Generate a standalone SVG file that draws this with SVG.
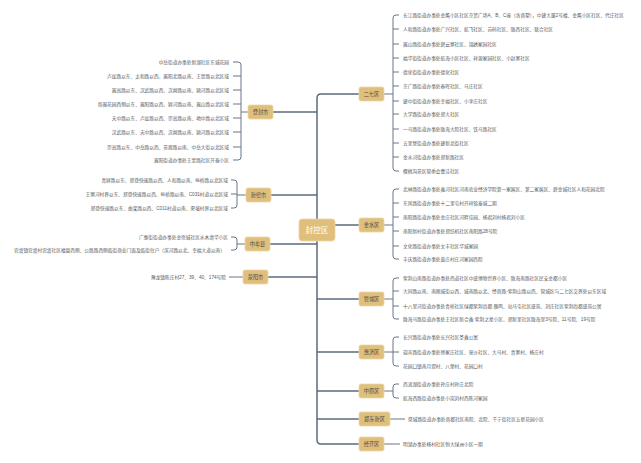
<svg xmlns="http://www.w3.org/2000/svg" width="641" height="463" viewBox="0 0 641 463">
<style>
.bg{fill:#ffffff}
.box{fill:#dfbf7b;stroke:#ecd7a6;stroke-width:0.8}
.lbl{font-family:"Liberation Sans","Noto Sans CJK SC",sans-serif;font-size:5.2px;fill:#4a4a4a;text-anchor:middle}
.rootlbl{font-size:7.6px;fill:#ffffff}
.leaf{font-family:"Liberation Sans","Noto Sans CJK SC",sans-serif;font-size:4.7px;fill:#555a60;text-anchor:start}
.l{text-anchor:end}
.main{fill:none;stroke:#5c6a7c;stroke-width:1.5}
.sub{fill:none;stroke:#6b7789;stroke-width:1}
</style>
<rect class="bg" x="0" y="0" width="641" height="463"/>
<g id="connectors">
<path class="main" d="M359 94 H321 Q317 94 317 98 V440 Q317 444 321 444 H359"/>
<path class="main" d="M317 225 H359 M317 299 H359 M317 352 H359 M317 391 H359 M317 419 H359"/>
<path class="main" d="M273 112 H317 M271 195 H317 M270 244 H317 M268 277 H317"/>
<path class="sub" d="M248 112 H241 M233 62 H238 Q241 62 241 65 V157 Q241 160 238 160 H233 M233 76 H241 M233 90 H241 M233 104 H241 M233 118 H241 M233 132 H241 M233 147 H241"/>
<path class="sub" d="M246 195 H237 M231 180 H234 Q237 180 237 183 V205 Q237 208 234 208 H231 M231 194 H237"/>
<path class="sub" d="M245 244 H237 M231 237 H234 Q237 237 237 240 V247 Q237 250 234 250 H231"/>
<path class="sub" d="M229 277 H243"/>
<path class="sub" d="M384 94 H393 M399 15 H396 Q393 15 393 18 V168 Q393 171 396 171 H399 M393 29 H399 M393 44 H399 M393 58 H399 M393 72 H399 M393 86 H399 M393 101 H399 M393 114 H399 M393 129 H399 M393 143 H399 M393 157 H399"/>
<path class="sub" d="M384 225 H393 M399 189 H396 Q393 189 393 192 V256 Q393 259 396 259 H399 M393 203 H399 M393 217 H399 M393 231 H399 M393 246 H399"/>
<path class="sub" d="M384 299 H393 M399 278 H396 Q393 278 393 281 V316 Q393 319 396 319 H399 M393 291 H399 M393 306 H399"/>
<path class="sub" d="M384 352 H393 M399 337 H396 Q393 337 393 340 V363 Q393 366 396 366 H399 M393 352 H399"/>
<path class="sub" d="M384 391 H393 M399 384 H396 Q393 384 393 387 V395 Q393 398 396 398 H399"/>
<path class="sub" d="M390 419 H405"/>
<path class="sub" d="M384 444 H400"/>
</g>
<g id="root"><rect class="box" x="299" y="219" width="36" height="22" rx="3"/><text class="lbl rootlbl" x="317" y="232.7">封控区</text></g>
<g id="dengfeng"><rect class="box" x="248" y="105" width="25" height="14" rx="2"/><text class="lbl" x="260.5" y="113.9">登封市</text>
<text class="leaf l" x="229" y="63.7">中岳街道办事处新湖社区东城花园</text>
<text class="leaf l" x="229" y="77.7">卢崖路以东、太和路以西、嵩阳北路以南、王蒙路以北区域</text>
<text class="leaf l" x="229" y="91.7">嵩高路以东、汉武路以西、汉阙路以南、颍河路以北区域</text>
<text class="leaf l" x="229" y="105.7">倚嵩花园西侧以东、嵩阳路以西、颍河路以南、嵩山路以北区域</text>
<text class="leaf l" x="229" y="119.7">天中路以东、卢崖路以西、崇高路以南、地中路以北区域</text>
<text class="leaf l" x="229" y="133.7">汉武路以东、天中路以西、汉阙路以南、颍河路以北区域</text>
<text class="leaf l" x="229" y="148.7">崇高路以东、中岳路以西、景观路以南、中岳大街以北区域</text>
<text class="leaf l" x="229" y="161.7">嵩阳街道办事处王蒙路社区开泰小区</text>
</g>
<g id="xinmi"><rect class="box" x="246" y="188" width="25" height="14" rx="2"/><text class="lbl" x="258.5" y="196.9">新密市</text>
<text class="leaf l" x="228" y="181.7">青屏路以东、郑登快速路以西、人和路以南、纵桥路以北区域</text>
<text class="leaf l" x="228" y="195.7">王寨河村界以东、郑登快速路以西、纵桥路以南、C031村道以北区域</text>
<text class="leaf l" x="228" y="209.7">郑登快速路以东、曲梁路以西、C011村道以南、夏坡村界以北区域</text>
</g>
<g id="zhongmou"><rect class="box" x="245" y="237" width="25" height="14" rx="2"/><text class="lbl" x="257.5" y="245.9">中牟县</text>
<text class="leaf l" x="228" y="238.7">广惠街街道办事处金帝城社区水木清华小区</text>
<text class="leaf l" x="225" y="251.7">官渡镇官渡村官渡社区楼盘西侧、公路路西侧临街商业门面及临街住户（滨河路以北、幸福大道以南）</text>
</g>
<g id="xingyang"><rect class="box" x="243" y="270" width="25" height="14" rx="2"/><text class="lbl" x="255.5" y="278.9">荥阳市</text>
<text class="leaf l" x="226" y="278.7">豫龙镇陈庄村27、39、40、174号院</text>
</g>
<g id="erqi"><rect class="box" x="359" y="87" width="25" height="14" rx="2"/><text class="lbl" x="371.5" y="95.9">二七区</text>
<text class="leaf" x="403" y="16.7">长江路街道办事处金鹰小区社区京贸广场A、B、C座（含商墅），中建大厦2号楼、金鹰小区社区、代庄社区</text>
<text class="leaf" x="403" y="30.7">人和路街道办事处广兴社区、航飞社区、苏码社区、陇西社区、联合社区</text>
<text class="leaf" x="403" y="45.7">嵩山路街道办事处碧云寨社区、锦绣家园社区</text>
<text class="leaf" x="403" y="59.7">福华街街道办事处航海小区社区、祥源家园社区、小赵寨社区</text>
<text class="leaf" x="403" y="73.7">德化街街道办事处德化社区</text>
<text class="leaf" x="403" y="87.7">京广路街道办事处春晖社区、马庄社区</text>
<text class="leaf" x="403" y="102.7">建中街街道办事处幸福社区、小李庄社区</text>
<text class="leaf" x="403" y="115.7">大学路街道办事处郑大社区</text>
<text class="leaf" x="403" y="130.7">一马路街道办事处陇海大院社区、铁马路社区</text>
<text class="leaf" x="403" y="144.7">五里堡街道办事处建新北街社区</text>
<text class="leaf" x="403" y="158.7">金水河街道办事处郑新路社区</text>
<text class="leaf" x="403" y="172.7">樱桃沟景区管委会曹洼社区</text>
</g>
<g id="jinshui"><rect class="box" x="359" y="218" width="25" height="14" rx="2"/><text class="lbl" x="371.5" y="226.9">金水区</text>
<text class="leaf" x="403" y="190.7">北林路街道办事处鑫河社区河南农业经济学院第一家属区、第二家属区、碧金城社区人和花园北院</text>
<text class="leaf" x="403" y="204.7">东风路街道办事处十二里屯村开祥铭泰城二期</text>
<text class="leaf" x="403" y="218.7">南阳路街道办事处金庄社区河畔佳园、杨君刘村杨君刘小区</text>
<text class="leaf" x="403" y="232.7">南阳新村街道办事处郑纺机社区南阳路28号院</text>
<text class="leaf" x="403" y="247.7">文化路街道办事处文丰社区华城家园</text>
<text class="leaf" x="403" y="260.7">丰庆路街道办事处黄庄村庄河家园西院</text>
</g>
<g id="guancheng"><rect class="box" x="359" y="292" width="25" height="14" rx="2"/><text class="lbl" x="371.5" y="300.9">管城区</text>
<text class="leaf" x="403" y="279.7">紫荆山南路街道办事处西道社区中盛博物世界小区、陇海南路社区民安金都小区</text>
<text class="leaf" x="403" y="292.7">大同路以南、南顺城街以西、城南路以北、经商路-紫荆山路以西、管城区与二七区交界处以东区域</text>
<text class="leaf" x="403" y="307.7">十八里河街道办事处青桥社区绿都紫荆尚都·鹿鸣、站马屯社区盛苑、刘庄社区紫荆尚都盛苑公寓</text>
<text class="leaf" x="403" y="320.7">陇海马路街道办事处王社区新合鑫·紫荆之星小区、郑新里社区陇海里3号院、11号院、19号院</text>
</g>
<g id="huiji"><rect class="box" x="359" y="345" width="25" height="14" rx="2"/><text class="lbl" x="371.5" y="353.9">惠济区</text>
<text class="leaf" x="403" y="338.7">长兴路街道办事处长兴社区圣鑫公寓</text>
<text class="leaf" x="403" y="353.7">迎宾路街道办事处师家庄社区、莫沙社区、大马村、青寨村、杨庄村</text>
<text class="leaf" x="403" y="367.7">花园口镇南月堤村、八堡村、花园口村</text>
</g>
<g id="zhongyuan"><rect class="box" x="359" y="384" width="25" height="14" rx="2"/><text class="lbl" x="371.5" y="392.9">中原区</text>
<text class="leaf" x="403" y="385.7">西流湖街道办事处孙庄村孙庄北院</text>
<text class="leaf" x="403" y="399.7">航海西路街道办事处小岗刘村西陈河家园</text>
</g>
<g id="zhengdong"><rect class="box" x="359" y="412" width="31" height="14" rx="2"/><text class="lbl" x="374.5" y="420.9">郑东新区</text>
<text class="leaf" x="408" y="420.7">祭城路街道办事处商都社区南院、北院、千宁街社区五星花园小区</text>
</g>
<g id="jingkai"><rect class="box" x="359" y="437" width="25" height="14" rx="2"/><text class="lbl" x="371.5" y="445.9">经开区</text>
<text class="leaf" x="403" y="445.7">明湖办事处杨村社区恒大绿洲小区一期</text>
</g>
</svg>
